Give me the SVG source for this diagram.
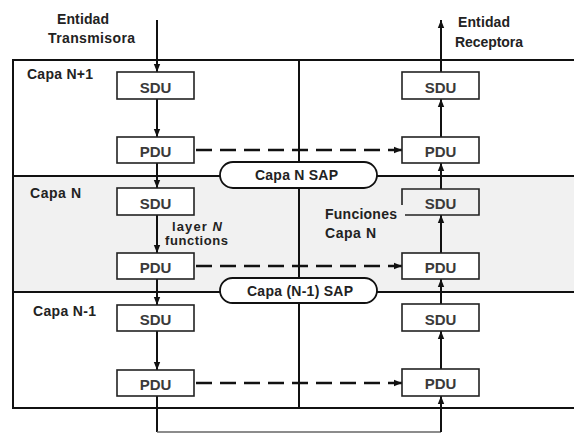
<svg xmlns="http://www.w3.org/2000/svg" width="574" height="433" viewBox="0 0 574 433">
<style>
text{font-family:"Liberation Sans",Arial,sans-serif;font-size:14px;font-weight:bold;fill:#222}
.box{fill:#fff;stroke:#222;stroke-width:1.6}
.bl{fill:#3a3a3a;text-anchor:middle;font-size:15px}
.sm{font-size:13px}
.ln{stroke:#111;stroke-width:2;fill:none}
.dash{stroke:#111;stroke-width:2.4;fill:none;stroke-dasharray:16 8}
.pill{fill:#fff;stroke:#111;stroke-width:1.8}
.frame{stroke:#111;stroke-width:2;fill:none}
</style>
<defs>
<marker id="ah" markerWidth="8" markerHeight="8" refX="8" refY="4" orient="auto" markerUnits="userSpaceOnUse">
<path d="M0,0.8 L8,4 L0,7.2 Z" fill="#111"/>
</marker>
</defs>
<rect x="0" y="0" width="574" height="433" fill="#fff"/>
<g id="layers">
<rect x="13" y="176" width="561" height="116" fill="#f1f1f1"/>
<path class="frame" d="M574,60 H13 V408 H574"/>
<line class="frame" x1="13" y1="176" x2="574" y2="176" stroke="#333" stroke-width="1.8"/>
<line class="frame" x1="13" y1="292" x2="574" y2="292"/>
<line class="frame" x1="299" y1="60" x2="299" y2="408"/>
<text x="27" y="79" textLength="66">Capa N+1</text>
<text x="30" y="198" textLength="51">Capa N</text>
<text x="33" y="316" textLength="63">Capa N-1</text>
</g>
<g id="connectors">
<line class="ln" x1="157" y1="20" x2="157" y2="72" marker-end="url(#ah)"/>
<line class="ln" x1="157" y1="99" x2="157" y2="137" marker-end="url(#ah)"/>
<line class="ln" x1="157" y1="163" x2="157" y2="188" marker-end="url(#ah)"/>
<line class="ln" x1="157" y1="215" x2="157" y2="253" marker-end="url(#ah)"/>
<line class="ln" x1="157" y1="279" x2="157" y2="305" marker-end="url(#ah)"/>
<line class="ln" x1="157" y1="331" x2="157" y2="370" marker-end="url(#ah)"/>
<path class="ln" d="M157,396 V432"/>
<path d="M157,432 H441" stroke="#666" stroke-width="1.5" fill="none"/>
<line class="ln" x1="441" y1="432" x2="441" y2="396" marker-end="url(#ah)"/>
<line class="ln" x1="441" y1="369" x2="441" y2="331" marker-end="url(#ah)"/>
<line class="ln" x1="441" y1="304" x2="441" y2="279" marker-end="url(#ah)"/>
<line class="ln" x1="441" y1="253" x2="441" y2="215" marker-end="url(#ah)"/>
<line class="ln" x1="441" y1="189" x2="441" y2="163" marker-end="url(#ah)"/>
<line class="ln" x1="441" y1="137" x2="441" y2="99" marker-end="url(#ah)"/>
<line class="ln" x1="441" y1="72" x2="441" y2="20" marker-end="url(#ah)"/>
<line class="dash" x1="196" y1="150" x2="402" y2="150" marker-end="url(#ah)"/>
<line class="dash" x1="196" y1="266" x2="402" y2="266" marker-end="url(#ah)"/>
<line class="dash" x1="196" y1="383" x2="402" y2="383" marker-end="url(#ah)"/>
</g>
<g id="sap-n">
<rect class="pill" x="220" y="162" width="157" height="26" rx="13"/>
<text x="255" y="180" textLength="83">Capa N SAP</text>
</g>
<g id="sap-n1">
<rect class="pill" x="220" y="278" width="157" height="25" rx="12.5"/>
<text x="247" y="296" textLength="106">Capa (N-1) SAP</text>
</g>
<g id="tx-labels">
<text x="57" y="24" textLength="52">Entidad</text>
<text x="48" y="43" textLength="87">Transmisora</text>
<text x="458" y="27" textLength="52">Entidad</text>
<text x="455" y="47" textLength="68">Receptora</text>
<text class="sm" x="172" y="231" textLength="50">layer <tspan font-style="italic">N</tspan></text>
<text class="sm" x="165" y="245" textLength="63">functions</text>
<text x="325" y="219" textLength="72">Funciones</text>
<text x="325" y="238" textLength="51">Capa N</text>
</g>
<g id="l-sdu1"><rect class="box" x="117" y="72" width="77" height="27"/><text class="bl" x="155.5" y="93">SDU</text></g>
<g id="l-pdu1"><rect class="box" x="117" y="137" width="77" height="26"/><text class="bl" x="155.5" y="157">PDU</text></g>
<g id="l-sdu2"><rect class="box" x="117" y="188" width="77" height="27"/><text class="bl" x="155.5" y="209">SDU</text></g>
<g id="l-pdu2"><rect class="box" x="117" y="253" width="77" height="26"/><text class="bl" x="155.5" y="273">PDU</text></g>
<g id="l-sdu3"><rect class="box" x="117" y="305" width="77" height="26"/><text class="bl" x="155.5" y="325">SDU</text></g>
<g id="l-pdu3"><rect class="box" x="117" y="370" width="77" height="26"/><text class="bl" x="155.5" y="390">PDU</text></g>
<g id="r-sdu1"><rect class="box" x="402" y="72" width="77" height="27"/><text class="bl" x="440.5" y="93">SDU</text></g>
<g id="r-pdu1"><rect class="box" x="402" y="137" width="77" height="26"/><text class="bl" x="440.5" y="157">PDU</text></g>
<g id="r-sdu2"><rect x="402" y="189" width="77" height="26" fill="#f1f1f1"/><path class="box" d="M402,205 V189 H479 V215 H405" style="fill:none"/><text class="bl" x="440.5" y="209">SDU</text></g>
<g id="r-pdu2"><rect class="box" x="402" y="253" width="77" height="26"/><text class="bl" x="440.5" y="273">PDU</text></g>
<g id="r-sdu3"><rect class="box" x="402" y="304" width="77" height="27"/><text class="bl" x="440.5" y="325">SDU</text></g>
<g id="r-pdu3"><rect class="box" x="402" y="369" width="77" height="27"/><text class="bl" x="440.5" y="389">PDU</text></g>
</svg>
